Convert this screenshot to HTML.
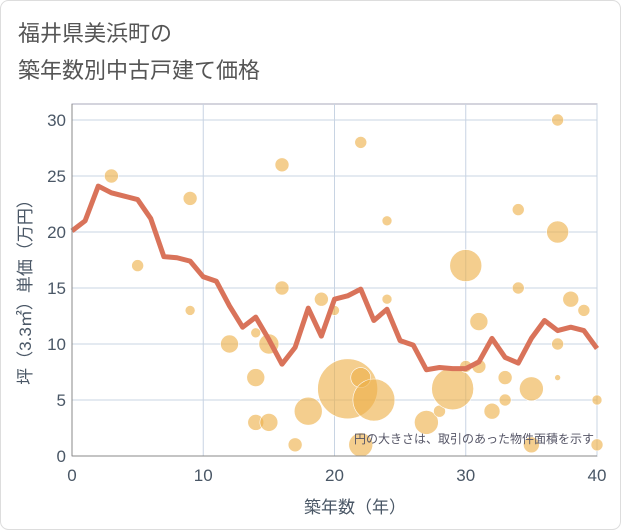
<!DOCTYPE html>
<html><head><meta charset="utf-8"><style>
body{margin:0;background:#fff;}
svg{display:block;font-family:"Liberation Sans","Noto Sans CJK JP",sans-serif;}
</style></head><body>
<svg id="c" width="621" height="530">
<rect x="0.5" y="0.5" width="620" height="529" rx="8" fill="#fff" stroke="#ddd"/>
<text x="18" y="41" font-size="22" fill="#555">福井県美浜町の</text>
<text x="18" y="78" font-size="22" fill="#555">築年数別中古戸建て価格</text>
<g id="grid"></g><g id="bub"></g><g id="line"></g><g id="ax"></g>
<text x="594" y="443" font-size="12" fill="#556" text-anchor="end">円の大きさは、取引のあった物件面積を示す</text>
<text x="355" y="513" font-size="17" fill="#4a5766" text-anchor="middle">築年数（年）</text>
<text transform="translate(31,288) rotate(-90)" font-size="17" fill="#4a5766" text-anchor="middle">坪（3.3㎡）単価（万円）</text>
</svg>
<script>
const years=[0,1,2,3,4,5,6,7,8,9,10,11,12,13,14,15,16,17,18,19,20,21,22,23,24,25,26,27,28,29,30,31,32,33,34,35,36,37,38,39,40];
const avgPrice=[20.1,21,24.1,23.5,23.2,22.9,21.2,17.8,17.7,17.4,16,15.6,13.4,11.5,12.4,10.4,8.2,9.7,13.2,10.7,14,14.3,14.9,12.1,13.1,10.3,9.9,7.7,7.9,7.8,7.8,8.4,10.5,8.8,8.3,10.5,12.1,11.2,11.5,11.2,9.6];
const bubX=[3,9,5,9,16,16,14,12,15,14,14,15,17,18,19,20,21,22,23,22,22,24,24,27,28,29,30,30,31,31,32,33,33,34,34,35,35,37,37,37,37,38,39,40,40];
const bubY=[25,23,17,13,26,15,11,10,10,7,3,3,1,4,14,13,6,7,5,1,28,21,14,3,4,6,17,8,12,8,4,5,7,22,15,6,1,30,20,10,7,14,13,5,1];
const bubArea=[7,7,6,5,7,7,5,9,10,9,8,9,7,14,7,5,30,10,21,12,6,5,5,12,6,21,16,6,9,7,8,6,7,6,6,12,8,6,11,6,3,8,6,5,6];
const xTicks=[0,10,20,30,40];
const yTicks=[0,5,10,15,20,25,30];
const X0=72,X1=597,Y0=456,Y1=120;
const sx=v=>X0+(v-0)/40*(X1-X0), sy=v=>Y0-v/30*(Y0-Y1);
const NS='http://www.w3.org/2000/svg';
function mk(p,t,a){const e=document.createElementNS(NS,t);for(const k in a)e.setAttribute(k,a[k]);p.appendChild(e);return e;}
const g=document.getElementById('grid'),ax=document.getElementById('ax'),bb=document.getElementById('bub'),ln=document.getElementById('line');
mk(g,'rect',{x:X0,y:104,width:X1-X0,height:Y0-104,fill:'none',stroke:'#aab'});
yTicks.forEach(v=>{const l=mk(g,'line',{x1:X0,x2:X1,y1:sy(v),y2:sy(v),stroke:'#c8d4e3'});


const t=mk(ax,'text',{x:X0-6,y:sy(v)+6,'font-size':17,fill:'#4a5766','text-anchor':'end'});t.textContent=v;

});
xTicks.forEach(v=>{const l=mk(g,'line',{x1:sx(v),x2:sx(v),y1:104,y2:Y0,stroke:'#c8d4e3'});


const t=mk(ax,'text',{x:sx(v),y:481,'font-size':17,fill:'#4a5766','text-anchor':'middle'});t.textContent=v;

});
mk(ax,'line',{x1:X0,x2:X0,y1:104,y2:Y0,stroke:'#888'});
mk(ax,'line',{x1:X0,x2:X1,y1:Y0,y2:Y0,stroke:'#888'});
bubX.forEach((x,i)=>{const c=mk(bb,'circle',{cx:sx(x),cy:sy(bubY[i]),r:bubArea[i],fill:'rgba(238,176,72,0.62)',stroke:'#fff','stroke-width':0.6});

});
const p=mk(ln,'polyline',{points:years.map((y,i)=>sx(y)+','+sy(avgPrice[i])).join(' '),fill:'none',stroke:'#d9735a','stroke-width':5,'stroke-linejoin':'round'});


</script>
</body></html>
